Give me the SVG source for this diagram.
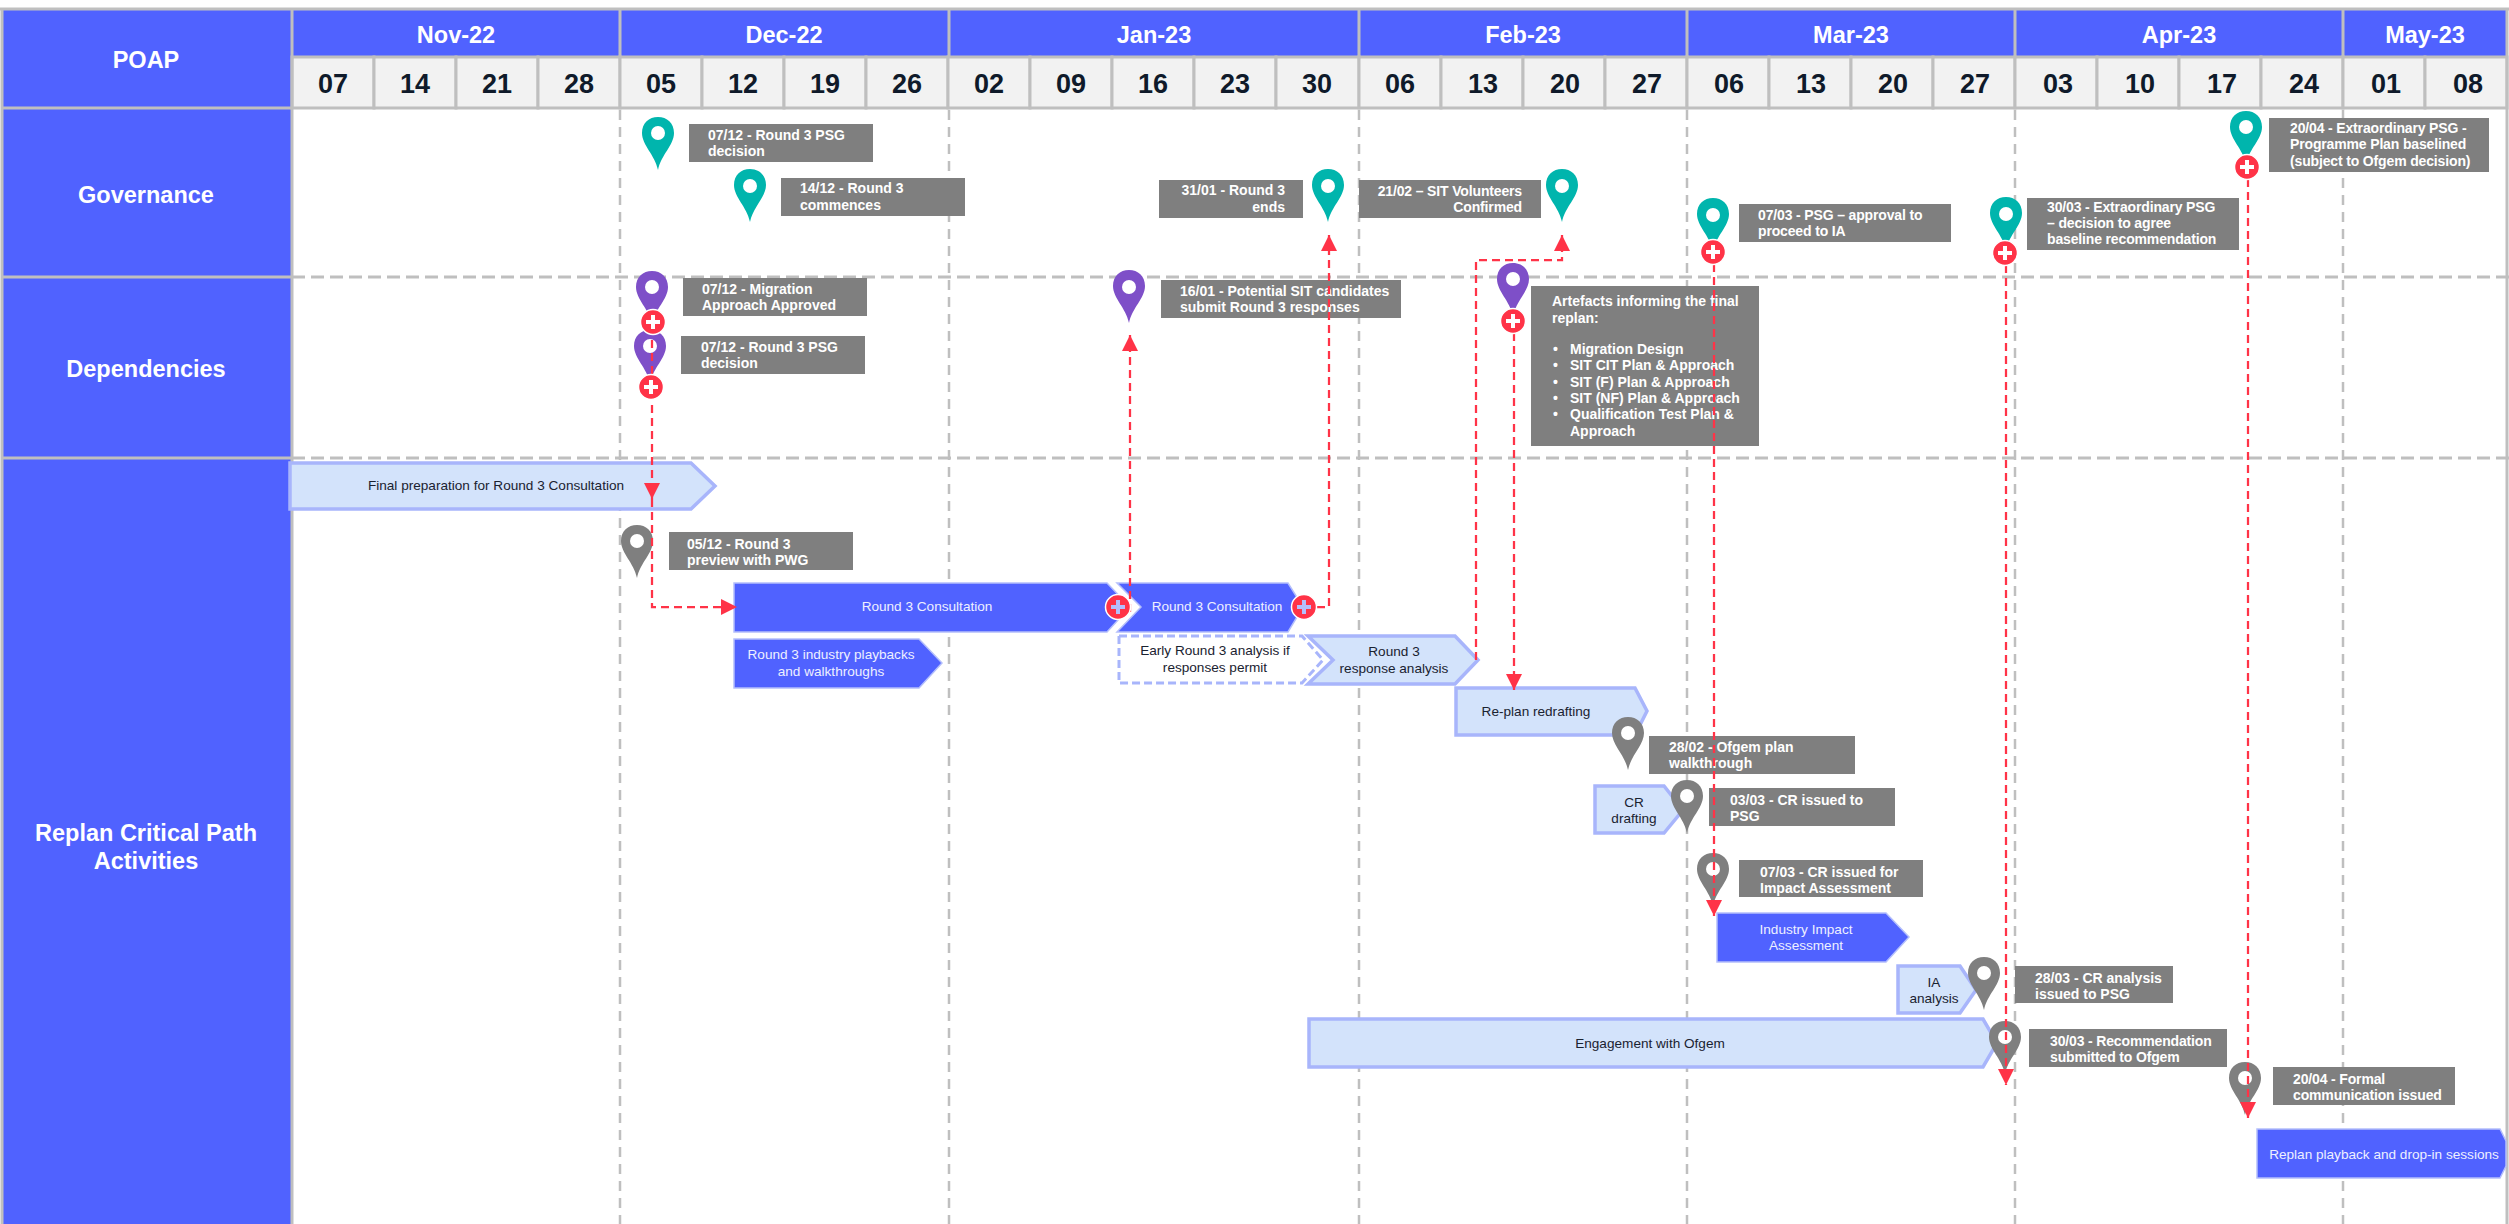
<svg xmlns="http://www.w3.org/2000/svg" width="2509" height="1224" viewBox="0 0 2509 1224">
<style>
text{font-family:"Liberation Sans",Arial,sans-serif}
.hd{fill:#5062ff}
.wk{fill:#f2f2f2;stroke:#bfbfbf;stroke-width:3}
.gl{stroke:#bfbfbf;stroke-width:3;fill:none}
.gd{stroke:#bfbfbf;stroke-width:3;fill:none;stroke-dasharray:13 6}
.gv{stroke:#bfbfbf;stroke-width:2.5;fill:none;stroke-dasharray:10 7}
.mt{fill:#fff;font-size:23.5px;font-weight:bold;text-anchor:middle}
.wt{fill:#0f1a2a;font-size:27px;font-weight:bold;text-anchor:middle}
.rt{fill:#fff;font-size:23.5px;font-weight:bold;text-anchor:middle}
.lb{fill:#7f7f7f}
.lt{fill:#fff;font-size:14px;font-weight:bold}
.n{letter-spacing:-.15px}
.end{text-anchor:end}
.teal{fill:#00b5ad}.purple{fill:#7e4fc8}.grey{fill:#7f7f7f}
.hole{fill:#fff}
.r{fill:none;stroke:#ff3347;stroke-width:2.25;stroke-dasharray:8 5}
.dk{fill:#5062ff;stroke:#b4bffc;stroke-width:1.5}
.li{fill:#d3e3fb;stroke:#a8b5fb;stroke-width:3.5}
.da{fill:#fff;stroke:#a8b5fb;stroke-width:3;stroke-dasharray:8 4}
.bw{fill:#eef0ff;font-size:13.6px;text-anchor:middle}
.bd{fill:#1a2230;font-size:13.6px;text-anchor:middle}
.pc{fill:#ff3347;stroke:#fff;stroke-width:1.5}
.pp{fill:#fff}
</style>
<defs>
<marker id="ah" markerUnits="userSpaceOnUse" markerWidth="18" markerHeight="18" refX="16" refY="8" orient="auto"><path d="M0,0L16,8L0,16Z" fill="#ff3347"/></marker>
<path id="pinp" d="M0,53C-3,38-16,28-16,16C-16,6-9,0 0,0C9,0 16,6 16,16C16,28 3,38 0,53Z"/>
<g id="plus"><circle class="pc" r="12.5"/><path class="pp" d="M-2,-7H2V-2H7V2H2V7H-2V2H-7V-2H-2Z"/></g>
<g id="plusb"><circle class="pc" r="12.5"/><path fill="#b4bffc" d="M-2,-7H2V-2H7V2H2V7H-2V2H-7V-2H-2Z"/></g>
</defs>

<g id="grid">
<rect x="2" y="9" width="2505" height="1215" fill="#fff"/>
<rect class="hd" x="2" y="9" width="290" height="1215"/>
<rect class="hd" x="292" y="9" width="2215" height="47"/>
<g class="wk">
<rect x="292" y="57" width="82" height="51"/><rect x="374" y="57" width="82" height="51"/><rect x="456" y="57" width="82" height="51"/><rect x="538" y="57" width="82" height="51"/>
<rect x="620" y="57" width="82" height="51"/><rect x="702" y="57" width="82" height="51"/><rect x="784" y="57" width="82" height="51"/><rect x="866" y="57" width="82" height="51"/>
<rect x="948" y="57" width="82" height="51"/><rect x="1030" y="57" width="82" height="51"/><rect x="1112" y="57" width="82" height="51"/><rect x="1194" y="57" width="82" height="51"/><rect x="1276" y="57" width="83" height="51"/>
<rect x="1359" y="57" width="82" height="51"/><rect x="1441" y="57" width="82" height="51"/><rect x="1523" y="57" width="82" height="51"/><rect x="1605" y="57" width="82" height="51"/>
<rect x="1687" y="57" width="82" height="51"/><rect x="1769" y="57" width="82" height="51"/><rect x="1851" y="57" width="82" height="51"/><rect x="1933" y="57" width="82" height="51"/>
<rect x="2015" y="57" width="82" height="51"/><rect x="2097" y="57" width="82" height="51"/><rect x="2179" y="57" width="82" height="51"/><rect x="2261" y="57" width="82" height="51"/>
<rect x="2343" y="57" width="82" height="51"/><rect x="2425" y="57" width="82" height="51"/>
</g>
<path class="gl" d="M0,9H2509M2,9V1224M292,9V1224M620,9V57M949,9V57M1359,9V57M1687,9V57M2015,9V57M2343,9V57M2507,9V1224M2,108H292M2,277H292M2,458H292"/>
<path class="gd" d="M292,277H2509M292,458H2509"/>
<path class="gv" d="M620,110V1224M949,110V1224M1359,110V1224M1687,110V1224M2015,110V1224M2343,110V1224"/>
<g class="mt"><text x="456" y="43">Nov-22</text><text x="784" y="43">Dec-22</text><text x="1154" y="43">Jan-23</text><text x="1523" y="43">Feb-23</text><text x="1851" y="43">Mar-23</text><text x="2179" y="43">Apr-23</text><text x="2425" y="43">May-23</text></g>
<g class="wt"><text x="333" y="93">07</text><text x="415" y="93">14</text><text x="497" y="93">21</text><text x="579" y="93">28</text><text x="661" y="93">05</text><text x="743" y="93">12</text><text x="825" y="93">19</text><text x="907" y="93">26</text><text x="989" y="93">02</text><text x="1071" y="93">09</text><text x="1153" y="93">16</text><text x="1235" y="93">23</text><text x="1317" y="93">30</text><text x="1400" y="93">06</text><text x="1483" y="93">13</text><text x="1565" y="93">20</text><text x="1647" y="93">27</text><text x="1729" y="93">06</text><text x="1811" y="93">13</text><text x="1893" y="93">20</text><text x="1975" y="93">27</text><text x="2058" y="93">03</text><text x="2140" y="93">10</text><text x="2222" y="93">17</text><text x="2304" y="93">24</text><text x="2386" y="93">01</text><text x="2468" y="93">08</text></g>
<g class="rt"><text x="146" y="68">POAP</text><text x="146" y="203">Governance</text><text x="146" y="377">Dependencies</text><text x="146" y="841">Replan Critical Path</text><text x="146" y="869">Activities</text></g>
</g>

<g id="bars">
<g id="bar-final"><path class="li" d="M290,463H691L715,486L691,509H290Z"/><text class="bd" x="496" y="490">Final preparation for Round 3 Consultation</text></g>
<g id="bar-consult1"><path class="dk" d="M734,583H1107L1130,607L1107,632H734Z"/><text class="bw" x="927" y="611">Round 3 Consultation</text></g>
<g id="bar-consult2"><path class="dk" d="M1117,583H1288L1303,607L1288,632H1117L1141,607Z"/><text class="bw" x="1217" y="611">Round 3 Consultation</text></g>
<g id="bar-playbacks"><path class="dk" d="M734,639H919L942,663L919,688H734Z"/><text class="bw" x="831" y="659">Round 3 industry playbacks</text><text class="bw" x="831" y="676">and walkthroughs</text></g>
<g id="bar-early"><path class="da" d="M1119,636H1302L1323,660L1302,683H1119Z"/><text class="bd" x="1215" y="655">Early Round 3 analysis if</text><text class="bd" x="1215" y="672">responses permit</text></g>
<g id="bar-response"><path class="li" d="M1308,636H1455L1478,660L1455,684H1308L1333,660Z"/><text class="bd" x="1394" y="656">Round 3</text><text class="bd" x="1394" y="673">response analysis</text></g>
<g id="bar-redraft"><path class="li" d="M1456,688H1635L1647,711L1635,735H1456Z"/><text class="bd" x="1536" y="716">Re-plan redrafting</text></g>
<g id="bar-cr"><path class="li" d="M1595,786H1664L1683,810L1664,833H1595Z"/><text class="bd" x="1634" y="807">CR</text><text class="bd" x="1634" y="823">drafting</text></g>
<g id="bar-impact"><path class="dk" d="M1717,913H1886L1909,937L1886,962H1717Z"/><text class="bw" x="1806" y="934">Industry Impact</text><text class="bw" x="1806" y="950">Assessment</text></g>
<g id="bar-ia"><path class="li" d="M1898,966H1960L1976,990L1960,1013H1898Z"/><text class="bd" x="1934" y="987">IA</text><text class="bd" x="1934" y="1003">analysis</text></g>
<g id="bar-ofgem"><path class="li" d="M1309,1019H1983L1997,1043L1983,1067H1309Z"/><text class="bd" x="1650" y="1048">Engagement with Ofgem</text></g>
<g id="bar-playback2"><path class="dk" d="M2257,1129H2500L2506,1141V1166L2500,1178H2257Z"/><text class="bw" x="2384" y="1159">Replan playback and drop-in sessions</text></g>
</g>

<g id="ms-g1"><use href="#pinp" x="658" y="117" class="teal"/><circle class="hole" cx="658" cy="133" r="7"/><rect class="lb" x="689" y="124" width="184" height="38"/><text class="lt" x="708" y="140">07/12 - Round 3 PSG</text><text class="lt" x="708" y="156">decision</text></g>
<g id="ms-g2"><use href="#pinp" x="750" y="169" class="teal"/><circle class="hole" cx="750" cy="186" r="7"/><rect class="lb" x="781" y="178" width="184" height="38"/><text class="lt" x="800" y="193">14/12 - Round 3</text><text class="lt" x="800" y="210">commences</text></g>
<g id="ms-g3"><use href="#pinp" x="1328" y="169" class="teal"/><circle class="hole" cx="1328" cy="186" r="7"/><rect class="lb" x="1159" y="180" width="144" height="38"/><text class="lt end" x="1285" y="195">31/01 - Round 3</text><text class="lt end" x="1285" y="212">ends</text></g>
<g id="ms-g4"><use href="#pinp" x="1562" y="169" class="teal"/><circle class="hole" cx="1562" cy="186" r="7"/><rect class="lb" x="1359" y="180" width="182" height="38"/><text class="lt end n" x="1522" y="196">21/02 – SIT Volunteers</text><text class="lt end n" x="1522" y="212">Confirmed</text></g>
<g id="ms-g5"><use href="#pinp" x="1713" y="198" class="teal"/><circle class="hole" cx="1713" cy="215" r="7"/><rect class="lb" x="1739" y="204" width="212" height="38"/><text class="lt n" x="1758" y="220">07/03 - PSG – approval to</text><text class="lt n" x="1758" y="236">proceed to IA</text></g>
<g id="ms-g6"><use href="#pinp" x="2006" y="197" class="teal"/><circle class="hole" cx="2006" cy="214" r="7"/><rect class="lb" x="2027" y="198" width="212" height="52"/><text class="lt n" x="2047" y="212">30/03 - Extraordinary PSG</text><text class="lt n" x="2047" y="228">– decision to agree</text><text class="lt n" x="2047" y="244">baseline recommendation</text></g>
<g id="ms-g7"><use href="#pinp" x="2246" y="111" class="teal"/><circle class="hole" cx="2246" cy="127" r="7"/><rect class="lb" x="2269" y="118" width="220" height="54"/><text class="lt n" x="2290" y="133">20/04 - Extraordinary PSG -</text><text class="lt n" x="2290" y="149">Programme Plan baselined</text><text class="lt n" x="2290" y="166">(subject to Ofgem decision)</text></g>

<g id="ms-d1"><use href="#pinp" x="652" y="271" class="purple"/><circle class="hole" cx="652" cy="287" r="7"/><rect class="lb" x="683" y="278" width="184" height="38"/><text class="lt" x="702" y="294">07/12 - Migration</text><text class="lt" x="702" y="310">Approach Approved</text></g>
<g id="ms-d2"><use href="#pinp" x="650" y="330" class="purple"/><circle class="hole" cx="650" cy="346" r="7"/><rect class="lb" x="681" y="336" width="184" height="38"/><text class="lt" x="701" y="352">07/12 - Round 3 PSG</text><text class="lt" x="701" y="368">decision</text></g>
<g id="ms-d3"><use href="#pinp" x="1129" y="270" class="purple"/><circle class="hole" cx="1129" cy="287" r="7"/><rect class="lb" x="1161" y="280" width="240" height="38"/><text class="lt" x="1180" y="296">16/01 - Potential SIT candidates</text><text class="lt" x="1180" y="312">submit Round 3 responses</text></g>
<g id="ms-d4"><use href="#pinp" x="1513" y="263" class="purple"/><circle class="hole" cx="1513" cy="279" r="7"/><rect class="lb" x="1531" y="286" width="228" height="160"/>
<g class="lt"><text x="1552" y="306">Artefacts informing the final</text><text x="1552" y="323">replan:</text><text x="1553" y="354">•</text><text x="1570" y="354">Migration Design</text><text x="1553" y="370">•</text><text x="1570" y="370">SIT CIT Plan &amp; Approach</text><text x="1553" y="387">•</text><text x="1570" y="387">SIT (F) Plan &amp; Approach</text><text x="1553" y="403">•</text><text x="1570" y="403">SIT (NF) Plan &amp; Approach</text><text x="1553" y="419">•</text><text x="1570" y="419">Qualification Test Plan &amp;</text><text x="1570" y="436">Approach</text></g></g>

<g id="ms-p1"><use href="#pinp" x="637" y="525" class="grey"/><circle class="hole" cx="637" cy="541" r="7"/><rect class="lb" x="669" y="532" width="184" height="38"/><text class="lt" x="687" y="549">05/12 - Round 3</text><text class="lt" x="687" y="565">preview with PWG</text></g>
<g id="ms-p2"><use href="#pinp" x="1628" y="717" class="grey"/><circle class="hole" cx="1628" cy="733" r="7"/><rect class="lb" x="1649" y="736" width="206" height="38"/><text class="lt" x="1669" y="752">28/02 - Ofgem plan</text><text class="lt" x="1669" y="768">walkthrough</text></g>
<g id="ms-p3"><use href="#pinp" x="1687" y="780" class="grey"/><circle class="hole" cx="1687" cy="796" r="7"/><rect class="lb" x="1709" y="788" width="186" height="38"/><text class="lt" x="1730" y="805">03/03 - CR issued to</text><text class="lt" x="1730" y="821">PSG</text></g>
<g id="ms-p4"><use href="#pinp" x="1713" y="853" class="grey"/><circle class="hole" cx="1713" cy="869" r="7"/><rect class="lb" x="1739" y="860" width="184" height="37"/><text class="lt" x="1760" y="877">07/03 - CR issued for</text><text class="lt" x="1760" y="893">Impact Assessment</text></g>
<g id="ms-p5"><use href="#pinp" x="1984" y="957" class="grey"/><circle class="hole" cx="1984" cy="973" r="7"/><rect class="lb" x="2015" y="966" width="158" height="37"/><text class="lt" x="2035" y="983">28/03 - CR analysis</text><text class="lt" x="2035" y="999">issued to PSG</text></g>
<g id="ms-p6"><use href="#pinp" x="2005" y="1021" class="grey"/><circle class="hole" cx="2005" cy="1037" r="7"/><rect class="lb" x="2029" y="1029" width="198" height="38"/><text class="lt n" x="2050" y="1046">30/03 - Recommendation</text><text class="lt n" x="2050" y="1062">submitted to Ofgem</text></g>
<g id="ms-p7"><use href="#pinp" x="2245" y="1062" class="grey"/><circle class="hole" cx="2245" cy="1078" r="7"/><rect class="lb" x="2273" y="1067" width="182" height="38"/><text class="lt n" x="2293" y="1084">20/04 - Formal</text><text class="lt n" x="2293" y="1100">communication issued</text></g>

<g id="connectors">
<path class="r" d="M652,340V499" marker-end="url(#ah)"/>
<path class="r" d="M652,499V607H737" marker-end="url(#ah)"/>
<path class="r" d="M1130,612V335" marker-end="url(#ah)"/>
<path class="r" d="M1304,607H1329V235" marker-end="url(#ah)"/>
<path class="r" d="M1476,660V260H1562V235" marker-end="url(#ah)"/>
<path class="r" d="M1514,333V690" marker-end="url(#ah)"/>
<path class="r" d="M1714,264V916" marker-end="url(#ah)"/>
<path class="r" d="M2006,265V1085" marker-end="url(#ah)"/>
<path class="r" d="M2248,179V1118" marker-end="url(#ah)"/>
</g>
<g id="plus-icons">
<use href="#plus" x="653" y="322"/><use href="#plus" x="651" y="387"/><use href="#plus" x="1513" y="321"/><use href="#plus" x="1713" y="252"/><use href="#plus" x="2005" y="253"/><use href="#plus" x="2247" y="167"/>
<use href="#plusb" x="1118" y="607"/><use href="#plusb" x="1304" y="607"/>
</g>
</svg>
